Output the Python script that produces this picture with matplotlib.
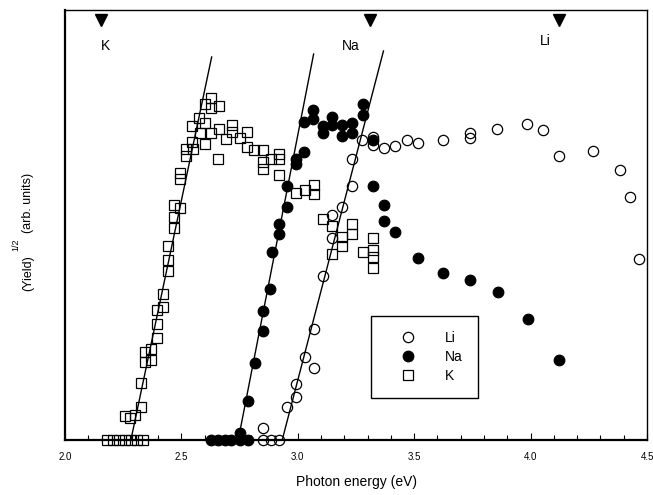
import matplotlib
matplotlib.use("Agg")
import matplotlib.pyplot as plt
import numpy as np

plt.rcParams['font.family'] = ['Liberation Sans', 'DejaVu Sans']

# Li (open circles), photon energy in eV and (yield)^1/2 in arb. units
li_x = [2.850, 2.883, 2.919, 2.850, 2.955, 2.994, 2.994, 3.029, 3.068, 3.068,
        3.108, 3.148, 3.148, 3.191, 3.232, 3.232, 3.277, 3.322, 3.322, 3.369,
        3.418, 3.468, 3.518, 3.624, 3.738, 3.738, 3.857, 3.985, 4.053, 4.123,
        4.268, 4.384, 4.426, 4.467]
li_y = [0.0, 0.0, 0.0, 0.123, 0.327, 0.433, 0.56, 0.827, 0.717, 1.11,
        1.64, 2.023, 2.247, 2.327, 2.543, 2.807, 3.0, 3.033, 2.95, 2.917,
        2.94, 3.0, 2.973, 2.997, 3.073, 3.023, 3.107, 3.157, 3.10, 2.843,
        2.887, 2.70, 2.43, 1.81]

# Na (filled circles)
na_x = [2.629, 2.657, 2.686, 2.715, 2.750, 2.786, 2.750, 2.786, 2.817, 2.850,
        2.850, 2.882, 2.888, 2.919, 2.919, 2.955, 2.955, 2.991, 2.991, 3.028,
        3.028, 3.066, 3.066, 3.108, 3.108, 3.148, 3.148, 3.191, 3.191, 3.234,
        3.234, 3.278, 3.278, 3.324, 3.324, 3.369, 3.369, 3.417, 3.518, 3.625,
        3.738, 3.858, 3.987, 4.123]
na_y = [0.0, 0.0, 0.0, 0.0, 0.0, 0.0, 0.067, 0.39, 0.773, 1.09,
        1.29, 1.507, 1.88, 2.06, 2.16, 2.333, 2.537, 2.76, 2.81, 2.883,
        3.183, 3.303, 3.207, 3.14, 3.067, 3.225, 3.15, 3.155, 3.04, 3.175,
        3.07, 3.355, 3.253, 3.0, 2.543, 2.345, 2.193, 2.08, 1.823, 1.675,
        1.605, 1.483, 1.21, 0.80]

# K (open squares)
k_x = [2.180, 2.206, 2.232, 2.257, 2.283, 2.309, 2.334, 2.257, 2.281, 2.302,
       2.325, 2.325, 2.345, 2.345, 2.370, 2.370, 2.395, 2.395, 2.395, 2.419,
       2.419, 2.442, 2.442, 2.442, 2.467, 2.467, 2.467, 2.493, 2.493, 2.493,
       2.521, 2.521, 2.547, 2.545, 2.549, 2.576, 2.579, 2.602, 2.603, 2.600,
       2.629, 2.629, 2.629, 2.662, 2.661, 2.659, 2.719, 2.719, 2.690, 2.750,
       2.783, 2.783, 2.810, 2.850, 2.850, 2.850, 2.886, 2.919, 2.919, 2.919,
       2.991, 3.029, 3.068, 3.068, 3.108, 3.149, 3.191, 3.191, 3.234, 3.234,
       3.149, 3.278, 3.324, 3.324, 3.324, 3.324]
k_y = [0.0, 0.0, 0.0, 0.0, 0.0, 0.0, 0.0, 0.24, 0.22, 0.255,
       0.33, 0.57, 0.783, 0.883, 0.80, 0.91, 1.017, 1.158, 1.30, 1.333,
       1.457, 1.69, 1.80, 1.94, 2.12, 2.23, 2.35, 2.315, 2.67, 2.61,
       2.91, 2.835, 3.14, 2.983, 2.91, 3.217, 3.065, 3.355, 3.175, 2.955,
       3.417, 3.317, 3.07, 3.337, 3.107, 2.808, 3.153, 3.08, 3.007, 3.017,
       3.083, 2.933, 2.90, 2.897, 2.78, 2.713, 2.812, 2.863, 2.805, 2.65,
       2.47, 2.50, 2.553, 2.46, 2.213, 2.137, 2.025, 1.94, 2.16, 2.06,
       1.86, 1.88, 2.017, 1.895, 1.835, 1.725]

# straight line fits (end points)
k_fit_x = [2.283, 2.630]
k_fit_y = [0.0, 3.83]
na_fit_x = [2.744, 3.068]
na_fit_y = [0.0, 3.86]
li_fit_x = [2.933, 3.368]
li_fit_y = [0.0, 3.89]

# threshold markers at the top
thr_x = [2.153, 3.308, 4.123]
thr_names = ['K', 'Na', 'Li']
thr_label_x = [2.175, 3.229, 4.063]
thr_label_y = [3.943, 3.943, 3.993]

fig = plt.figure(figsize=(6.53, 4.95), dpi=100)
ax = fig.add_axes([65/653, 55/495, 582/653, 430/495])

ax.plot(k_fit_x, k_fit_y, color='black', lw=1.0, zorder=1)
ax.plot(na_fit_x, na_fit_y, color='black', lw=1.0, zorder=1)
ax.plot(li_fit_x, li_fit_y, color='black', lw=1.0, zorder=1)

ax.plot(li_x, li_y, 'o', ms=7.4, mfc='none', mec='black', mew=0.9, label='Li', clip_on=False, zorder=3)
ax.plot(na_x, na_y, 'o', ms=7.6, mfc='black', mec='black', mew=0.9, label='Na', clip_on=False, zorder=3)
ax.plot(k_x, k_y, 's', ms=7.8, mfc='none', mec='black', mew=0.9, label='K', clip_on=False, zorder=3)

ax.plot(thr_x, [4.20]*3, 'v', ms=8.5, color='black', clip_on=False)
for name, x, y in zip(thr_names, thr_label_x, thr_label_y):
    ax.text(x, y, name, fontsize=10, ha='center', va='center')

ax.set_xlim(2.0, 4.5)
ax.set_ylim(0, 4.3)
ax.set_xticks([2.0, 2.5, 3.0, 3.5, 4.0, 4.5])
ax.set_xticklabels(['2.0', '2.5', '3.0', '3.5', '4.0', '4.5'])
ax.set_xticks(np.arange(2.0, 4.5, 0.1), minor=True)
ax.set_yticks([])
ax.tick_params(axis='x', which='major', direction='in', length=5, width=0.8, labelsize=7, pad=9, top=False)
ax.tick_params(axis='x', which='minor', direction='in', length=3.5, width=0.8, top=False)

ax.spines['bottom'].set_linewidth(1.6)
ax.spines['left'].set_linewidth(1.6)
ax.spines['top'].set_linewidth(1.0)
ax.spines['right'].set_linewidth(1.0)

ax.set_xlabel('Photon energy (eV)', fontsize=10, labelpad=9)

# y label with a raised superscript, done by hand
fig.text(28/653, 1 - 273/495, '(Yield)', rotation=90, fontsize=9, ha='center', va='center')
fig.text(28/653, 1 - 203/495, '(arb. units)', rotation=90, fontsize=9, ha='center', va='center')
fig.text(16/653, 1 - 245/495, '1/2', rotation=90, fontsize=6.5, ha='center', va='center')

leg = ax.legend(loc='upper left', bbox_to_anchor=(370.7/653, 1 - 316/495), bbox_transform=fig.transFigure,
                borderaxespad=0, fontsize=10, fancybox=False, edgecolor='black', framealpha=1,
                borderpad=1.1, handlelength=3.2, handletextpad=1.07, labelspacing=0.35)
leg.get_frame().set_linewidth(1.0)

fig.savefig('out.png', dpi=100)
